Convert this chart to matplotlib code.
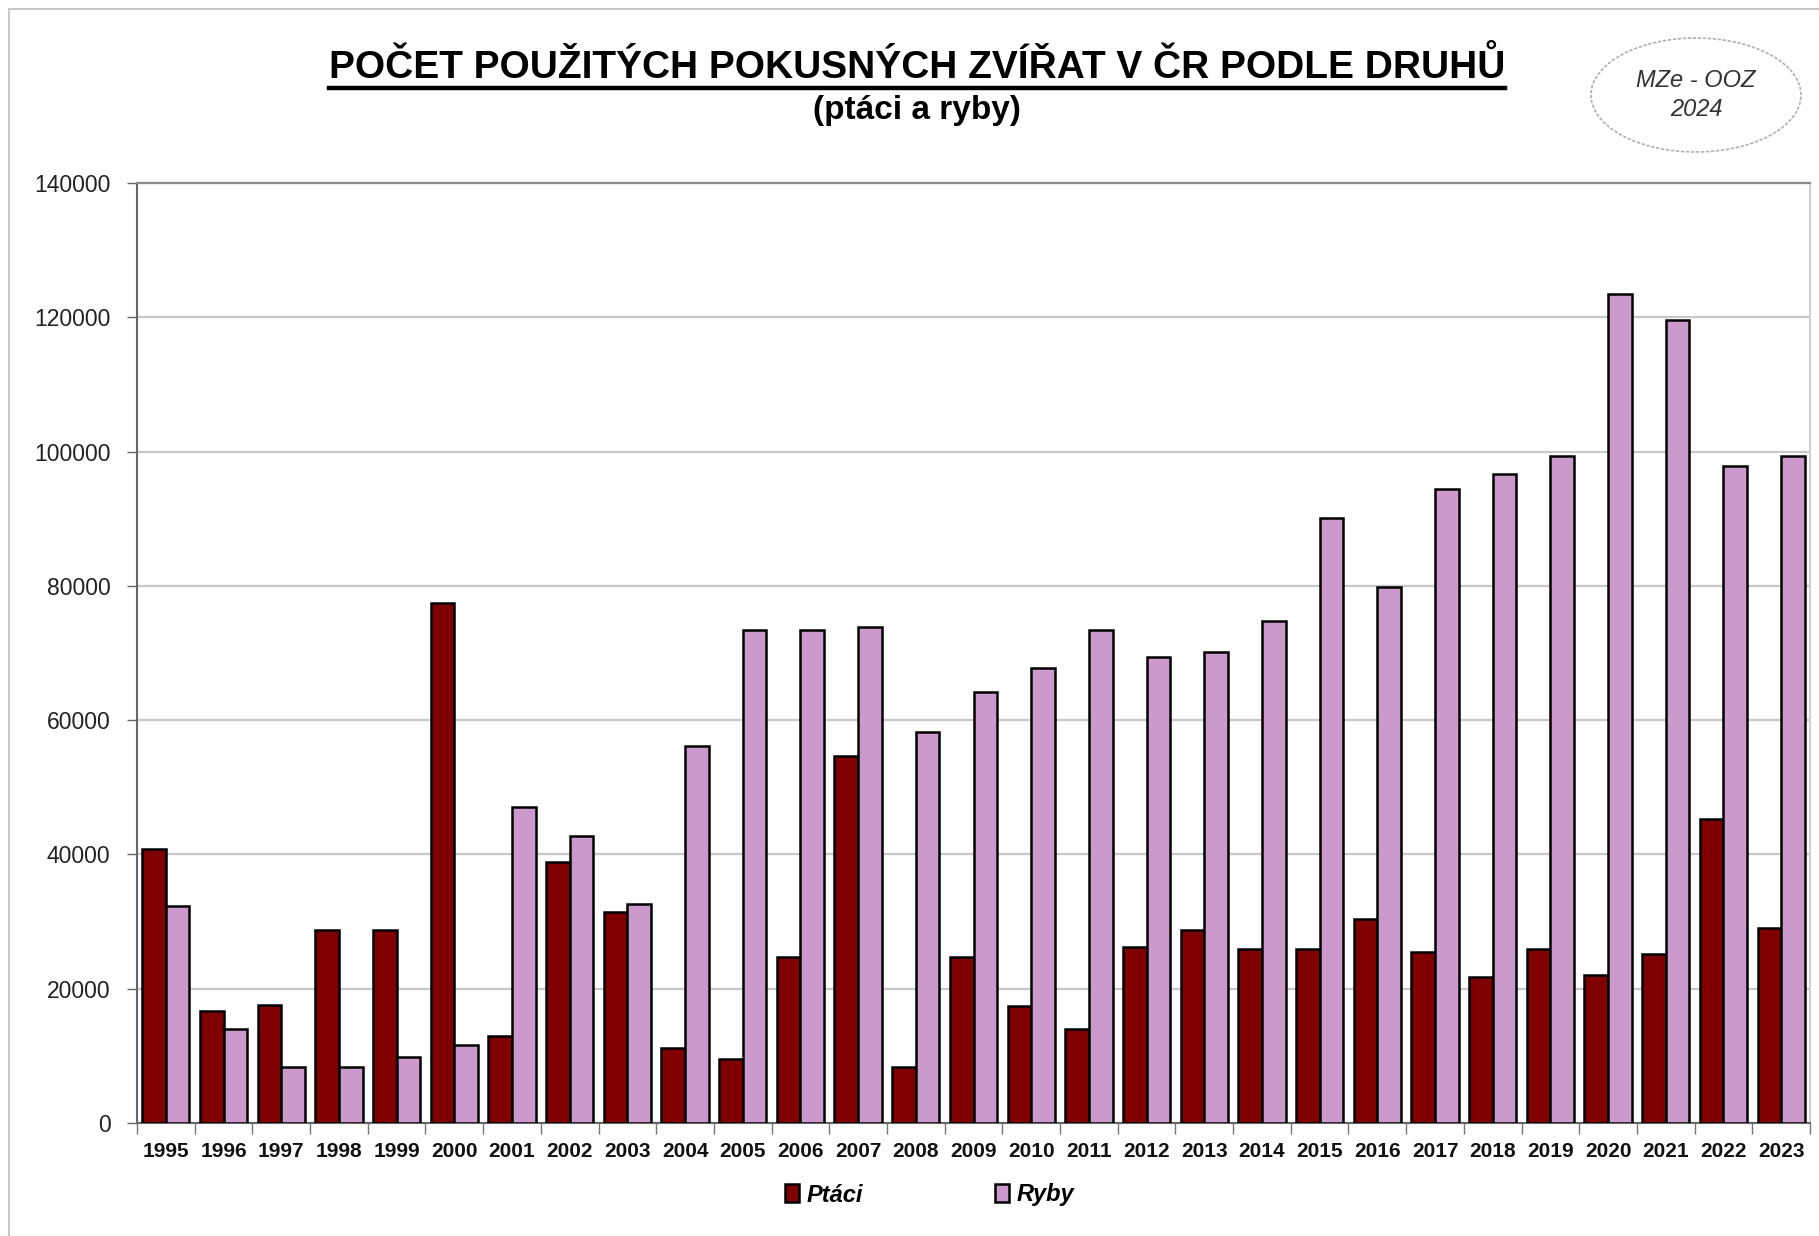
import numpy as np
import matplotlib
matplotlib.use('Agg')
import matplotlib.pyplot as plt
from matplotlib.patches import Ellipse, Rectangle
from matplotlib.lines import Line2D

plt.rcParams['font.family'] = ['Liberation Sans', 'DejaVu Sans']

years = [str(y) for y in range(1995, 2024)]
ptaci = [40800, 16700, 17600, 28700, 28800, 77500, 12900, 38800, 31400, 11200,
         9500, 24700, 54600, 8300, 24700, 17400, 14000, 26200, 28700, 25900,
         25900, 30400, 25400, 21700, 25900, 22100, 25200, 45300, 29000]
ryby = [32300, 14000, 8300, 8300, 9800, 11600, 47000, 42800, 32600, 56100,
        73500, 73500, 73900, 58200, 64200, 67800, 73500, 69400, 70100, 74800,
        90100, 79900, 94400, 96700, 99400, 123500, 119600, 97900, 99300]
yticks = [0, 20000, 40000, 60000, 80000, 100000, 120000, 140000]

W, H = 1819, 1236
fig = plt.figure(figsize=(W / 100, H / 100), dpi=100)
ax = fig.add_axes([137 / W, 1 - 1123 / H, (1810 - 137) / W, (1123 - 183) / H])

x = np.arange(len(years))
bw = 0.41
ax.bar(x - bw / 2, ptaci, bw, color='#800000', edgecolor='black', linewidth=1.8,
       label='Ptáci', zorder=3)
ax.bar(x + bw / 2, ryby, bw, color='#CC99CC', edgecolor='black', linewidth=1.8,
       label='Ryby', zorder=3)

ax.set_xlim(-0.5, len(years) - 0.5)
ax.set_ylim(0, 140000)
ax.set_yticks(yticks)
ax.set_yticklabels([str(v) for v in yticks], fontsize=16.5, color='#222222')
ax.set_xticks(x)
ax.set_xticklabels(years, fontsize=15, fontweight='bold', color='#111111')
ax.tick_params(axis='x', length=0, pad=14)
ax.tick_params(axis='y', length=7, width=1, color='#666666', pad=12)
# category boundary ticks
ax.set_xticks(np.arange(len(years) + 1) - 0.5, minor=True)
ax.tick_params(axis='x', which='minor', length=8, width=1, color='#777777')
ax.grid(axis='y', color='#c8c8c8', linewidth=1.6, zorder=0)

for s in ['left', 'bottom']:
    ax.spines[s].set_color('#666666')
    ax.spines[s].set_linewidth(1.5)
ax.spines['top'].set_color('#888888')
ax.spines['top'].set_linewidth(1.6)
ax.spines['right'].set_color('#d0d0d0')
ax.spines['right'].set_linewidth(1.5)

# outer frame (left and top visible)
fig.add_artist(Rectangle((9 / W, -0.05), 1.2, 1 - 9 / H + 0.05, transform=fig.transFigure,
                         fill=False, edgecolor='#c8c8c8', linewidth=1.5))

t = fig.text(917 / W, 1 - 67 / H, 'POČET POUŽITÝCH POKUSNÝCH ZVÍŘAT V ČR PODLE DRUHŮ',
             ha='center', va='center', fontsize=28, fontweight='bold')
fig.text(917 / W, 1 - 111 / H, '(ptáci a ryby)', ha='center', va='center',
         fontsize=24, fontweight='bold')

fig.canvas.draw()
bb = t.get_window_extent()
uy = (bb.y0 - 2) / H
fig.add_artist(Line2D([bb.x0 / W, bb.x1 / W], [uy, uy], transform=fig.transFigure,
                      color='black', linewidth=3.2))

fig.add_artist(Ellipse((1696 / W, 1 - 95 / H), 210 / W, 114 / H, transform=fig.transFigure,
                       fill=False, edgecolor='#b0b0b0', linewidth=1.2, linestyle=(0, (2, 1))))
fig.text(1696 / W, 1 - 95 / H, 'MZe - OOZ\n2024', ha='center', va='center',
         fontsize=17, fontstyle='italic', color='#333333', linespacing=1.3)

fig.legend(loc='center', bbox_to_anchor=(0.511, 1 - 1195 / H), ncol=2, frameon=False,
           handlelength=0.6, handleheight=0.8, handletextpad=0.3, columnspacing=5.6,
           prop={'size': 17, 'weight': 'bold', 'style': 'italic'})

fig.savefig('out.png', dpi=100)
